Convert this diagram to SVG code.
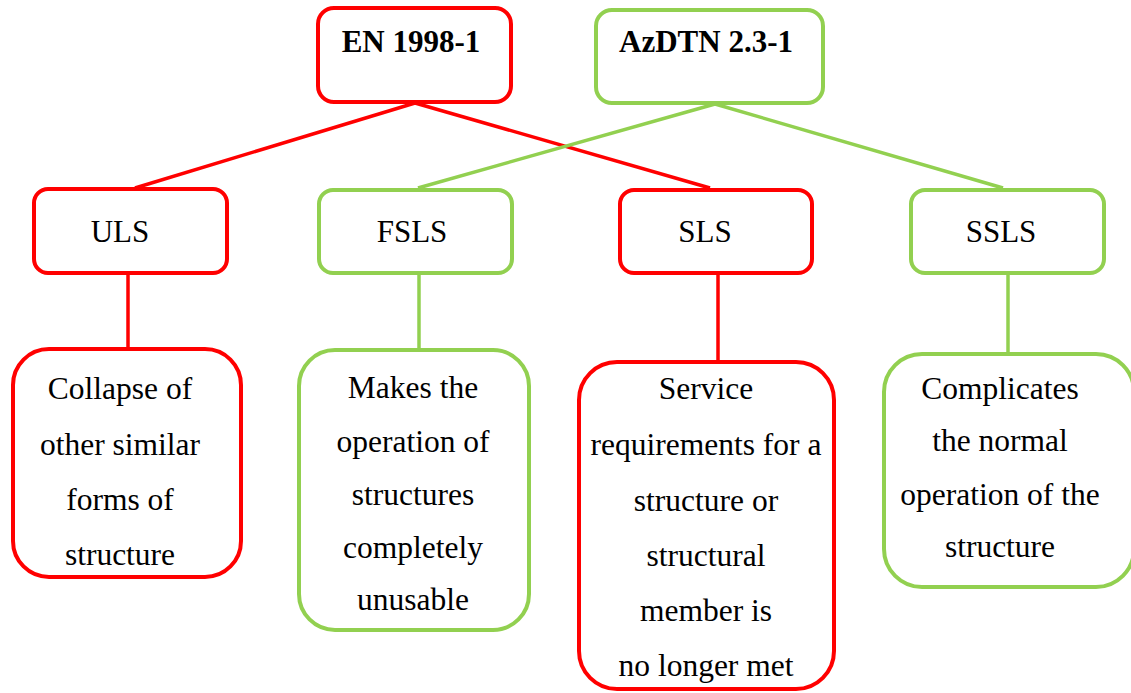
<svg xmlns="http://www.w3.org/2000/svg" width="1131" height="693" viewBox="0 0 1131 693">
<style>
.box{fill:#fff;stroke-width:4}
.r{stroke:#FF0000}
.g{stroke:#92D050}
.t{font-family:'Liberation Serif','DejaVu Serif',serif;font-size:31.5px;fill:#000;text-anchor:middle}
.h{font-size:31px}
.b{font-weight:bold}
.c{fill:none;stroke-width:3.5}
</style>
<rect width="1131" height="693" fill="#fff"/>
<g id="connectors">
<line class="c r" x1="415" y1="103" x2="135" y2="188"/>
<line class="c r" x1="415" y1="103" x2="710" y2="188"/>
<line class="c g" x1="715" y1="104" x2="418" y2="188"/>
<line class="c g" x1="715" y1="104" x2="1003" y2="188"/>
<line class="c r" x1="128" y1="274" x2="128" y2="348"/>
<line class="c g" x1="419" y1="274" x2="419" y2="349"/>
<line class="c r" x1="718" y1="274" x2="718" y2="361"/>
<line class="c g" x1="1008" y1="274" x2="1008" y2="353"/>
</g>
<g id="en1998">
<rect class="box r" x="318" y="8" width="193" height="94" rx="16"/>
<text class="t h b" x="411" y="52">EN 1998-1</text>
</g>
<g id="azdtn">
<rect class="box g" x="596" y="10" width="227" height="93" rx="16"/>
<text class="t h b" x="706" y="52">AzDTN 2.3-1</text>
</g>
<g id="uls">
<rect class="box r" x="34" y="189" width="193" height="84" rx="14"/>
<text class="t h" x="120" y="242">ULS</text>
</g>
<g id="fsls">
<rect class="box g" x="319" y="190" width="193" height="83" rx="14"/>
<text class="t h" x="412" y="242">FSLS</text>
</g>
<g id="sls">
<rect class="box r" x="620" y="190" width="192" height="83" rx="14"/>
<text class="t h" x="705" y="242">SLS</text>
</g>
<g id="ssls">
<rect class="box g" x="911" y="190" width="193" height="83" rx="14"/>
<text class="t h" x="1001" y="242">SSLS</text>
</g>
<g id="collapse">
<rect class="box r" x="13" y="349" width="228" height="228" rx="36"/>
<text class="t" x="120" y="399">Collapse of</text>
<text class="t" x="120" y="455">other similar</text>
<text class="t" x="120" y="510">forms of</text>
<text class="t" x="120" y="565">structure</text>
</g>
<g id="makes">
<rect class="box g" x="299" y="350" width="230" height="280" rx="36"/>
<text class="t" x="413" y="398">Makes the</text>
<text class="t" x="413" y="452">operation of</text>
<text class="t" x="413" y="505">structures</text>
<text class="t" x="413" y="558">completely</text>
<text class="t" x="413" y="610">unusable</text>
</g>
<g id="service">
<rect class="box r" x="579" y="362" width="255" height="327" rx="38"/>
<text class="t" x="706" y="399">Service</text>
<text class="t" x="706" y="455">requirements for a</text>
<text class="t" x="706" y="511">structure or</text>
<text class="t" x="706" y="566">structural</text>
<text class="t" x="706" y="621">member is</text>
<text class="t" x="706" y="676">no longer met</text>
</g>
<g id="complicates">
<rect class="box g" x="884" y="354" width="250" height="233" rx="38"/>
<text class="t" x="1000" y="399">Complicates</text>
<text class="t" x="1000" y="451">the normal</text>
<text class="t" x="1000" y="505">operation of the</text>
<text class="t" x="1000" y="557">structure</text>
</g>
</svg>
